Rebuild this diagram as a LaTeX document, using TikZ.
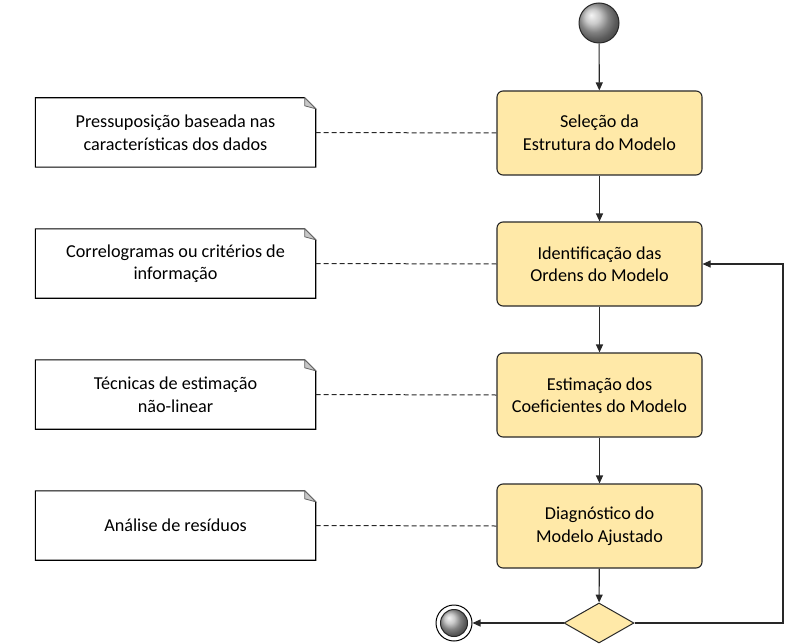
\documentclass[tikz,border=0pt]{standalone}
\usepackage{fontspec}
\setmainfont{Carlito}
\usetikzlibrary{shapes.geometric,arrows.meta}
\definecolor{boxfill}{RGB}{255,233,168}
\definecolor{lineC}{RGB}{40,40,40}
\definecolor{foldC}{RGB}{200,200,200}
\tikzset{
  x=1pt, y=-1pt,
  every node/.style={font=\fontsize{18.2}{22.5}\selectfont, align=center},
  stepbox/.style={draw=lineC, line width=1.1pt, fill=boxfill, rounded corners=6pt,
    minimum width=205pt, minimum height=84pt, inner sep=0pt},
  notebox/.style={minimum width=280pt, minimum height=69pt, inner sep=0pt},
  flow/.style={draw=lineC, line width=1.1pt, -{Triangle[length=8pt,width=7pt]}},
  link/.style={draw=lineC, line width=1pt, dashed, dash pattern=on 5pt off 3pt},
  startdot/.style={circle, draw=lineC, line width=1pt, shading=ball, ball color=gray!55, minimum size=40pt, inner sep=0pt},
}
\newcommand{\notefold}[1]{%
  \draw[line width=1.1pt, draw=black] (#1.north west) -- ([xshift=-11pt]#1.north east) -- ([yshift=-11pt]#1.north east) -- (#1.south east) -- (#1.south west) -- cycle;
  \filldraw[line width=0.8pt, draw=black!60, fill=foldC] ([xshift=-11pt]#1.north east) -- ([yshift=-11pt]#1.north east) -- ([xshift=-11pt,yshift=-8pt]#1.north east) -- cycle;
}
\begin{document}
\begin{tikzpicture}
\useasboundingbox (0,0) rectangle (799,644);
% activities
\node[startdot] (start) at (599,23) {};
\node[stepbox] (b1) at (599.5,133) {Seleção da\\Estrutura do Modelo};
\node[stepbox] (b2) at (599.5,264) {Identificação das\\Ordens do Modelo};
\node[stepbox] (b3) at (599.5,395) {Estimação dos\\Coeficientes do Modelo};
\node[stepbox] (b4) at (599.5,526) {Diagnóstico do\\Modelo Ajustado};
\node[diamond, draw=lineC, line width=1pt, fill=boxfill, minimum width=70pt, minimum height=40pt, inner sep=0pt] (dec) at (599,623) {};
\node[circle, draw=black, line width=1pt, fill=white, minimum size=36pt, inner sep=0pt] (end) at (454,623) {};
\node[circle, draw=lineC, line width=1pt, shading=ball, ball color=gray!55, minimum size=27pt, inner sep=0pt] (endin) at (end) {};
% notes
\node[notebox] (n1) at (175.5,132.5) {Pressuposição baseada nas\\características dos dados};
\node[notebox] (n2) at (175.5,263.5) {Correlogramas ou critérios de\\informação};
\node[notebox] (n3) at (175.5,394.5) {Técnicas de estimação\\não-linear};
\node[notebox] (n4) at (175.5,525.5) {Análise de resíduos};
\notefold{n1}\notefold{n2}\notefold{n3}\notefold{n4}
% flows
\draw[flow] (start) -- (b1);
\draw[flow] (b1) -- (b2);
\draw[flow] (b2) -- (b3);
\draw[flow] (b3) -- (b4);
\draw[flow] (b4) -- (dec);
\draw[flow] (dec.west) -- (end);
\coordinate (fb1) at (783,623);
\coordinate (fb2) at (783,264);
\draw[flow] (dec.east) -- (fb1) -- (fb2) -- (b2.east);
% links
\draw[link] (n1.east) -- (b1.west);
\draw[link] (n2.east) -- (b2.west);
\draw[link] (n3.east) -- (b3.west);
\draw[link] (n4.east) -- (b4.west);
\end{tikzpicture}
\end{document}
